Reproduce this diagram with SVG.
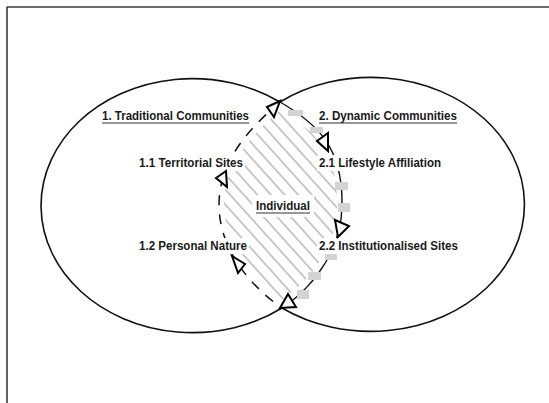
<svg xmlns="http://www.w3.org/2000/svg" width="549" height="403" viewBox="0 0 549 403">
<style>
.frame{stroke:#3a3a3a;stroke-width:1.6;fill:none}
.outer{stroke:#111;stroke-width:1.6;fill:none}
.dash{stroke:#111;stroke-width:1.5;fill:none;stroke-dasharray:10 9}
.solid{stroke:#111;stroke-width:1.4;fill:none}
.mask{fill:#d3d3d3}
.arr{fill:#fff;stroke:#000;stroke-width:2;stroke-linejoin:miter}
.bg{fill:#fff}
.lbl{font-family:"Liberation Sans",Arial,sans-serif;font-weight:bold;font-size:12.8px;fill:#1a1a1a}
.ul{stroke:#333;stroke-width:1.1}
</style>
<defs>
<pattern id="hatch" width="11" height="11" patternUnits="userSpaceOnUse" patternTransform="rotate(-42)">
<line x1="5" y1="-1" x2="5" y2="12" stroke="#3c3c3c" stroke-width="0.6"/>
</pattern>
</defs>
<g id="frame">
<line class="frame" x1="7" y1="7" x2="549" y2="7"/>
<line class="frame" x1="7" y1="7" x2="7" y2="403"/>
</g>
<g id="traditional">
<path class="outer" d="M280,102 A151.4,127 0 1 0 282,308"/>
</g>
<g id="dynamic">
<path class="outer" d="M280,102 A153.6,127 0 1 1 282,308"/>
</g>
<g id="individual">
<path fill="url(#hatch)" transform="translate(280.5,205) scale(0.92) translate(-280.5,-205)" d="M280,102 C318,124 343,148 342,205 C342,245 318,284 282,308 C251.6,287 219,250 219,205 C219,160 250,128 280,102 Z"/>
</g>
<g id="connectors">
<path class="dash" d="M280,102 C250,128 219,160 219,205 C219,250 251.6,287 282,308"/>
<path class="solid" d="M280,102 C318,124 343,148 342,205 C342,245 318,284 282,308"/>
<rect class="mask" x="288" y="110" width="15" height="6"/>
<rect class="mask" x="310" y="127" width="13" height="6"/>
<rect class="mask" x="335" y="182" width="13" height="8"/>
<rect class="mask" x="338" y="203" width="12" height="9"/>
<rect class="mask" x="325" y="252" width="12" height="8"/>
<rect class="mask" x="308" y="272" width="13" height="8"/>
<rect class="mask" x="297" y="290" width="12" height="9"/>
</g>
<g id="label-backgrounds">
<rect class="bg" x="137" y="155" width="108" height="16"/>
<rect class="bg" x="317" y="155" width="126" height="16"/>
<rect class="bg" x="252" y="195" width="62" height="22"/>
<rect class="bg" x="137" y="238" width="112" height="16"/>
<rect class="bg" x="317" y="238" width="143" height="16"/>
</g>
<g id="arrowheads">
<polygon class="arr" points="280,101 267,107 274,117"/>
<polygon class="arr" points="317,141 328,133 328,151"/>
<polygon class="arr" points="216,178 226,171 227,187"/>
<polygon class="arr" points="335,220 349,226 338,237"/>
<polygon class="arr" points="232,256 245,264 238,273"/>
<polygon class="arr" points="288,294 280,308 296,307"/>
</g>
<g id="heading-traditional">
<text class="lbl" x="102" y="120" textLength="147" lengthAdjust="spacingAndGlyphs">1. Traditional Communities</text>
<line class="ul" x1="102" y1="123" x2="249" y2="123"/>
</g>
<g id="heading-dynamic">
<text class="lbl" x="319" y="120" textLength="138" lengthAdjust="spacingAndGlyphs">2. Dynamic Communities</text>
<line class="ul" x1="319" y1="123" x2="457" y2="123"/>
</g>
<g id="territorial">
<text class="lbl" x="139" y="167" textLength="104" lengthAdjust="spacingAndGlyphs">1.1 Territorial Sites</text>
</g>
<g id="lifestyle">
<text class="lbl" x="319" y="167" textLength="122" lengthAdjust="spacingAndGlyphs">2.1 Lifestyle Affiliation</text>
</g>
<g id="individual-label">
<text class="lbl" x="256" y="210" textLength="54" lengthAdjust="spacingAndGlyphs">Individual</text>
<line class="ul" x1="256" y1="213" x2="310" y2="213"/>
</g>
<g id="personal">
<text class="lbl" x="139" y="250" textLength="108" lengthAdjust="spacingAndGlyphs">1.2 Personal Nature</text>
</g>
<g id="institutional">
<text class="lbl" x="319" y="250" textLength="139" lengthAdjust="spacingAndGlyphs">2.2 Institutionalised Sites</text>
</g>
</svg>
